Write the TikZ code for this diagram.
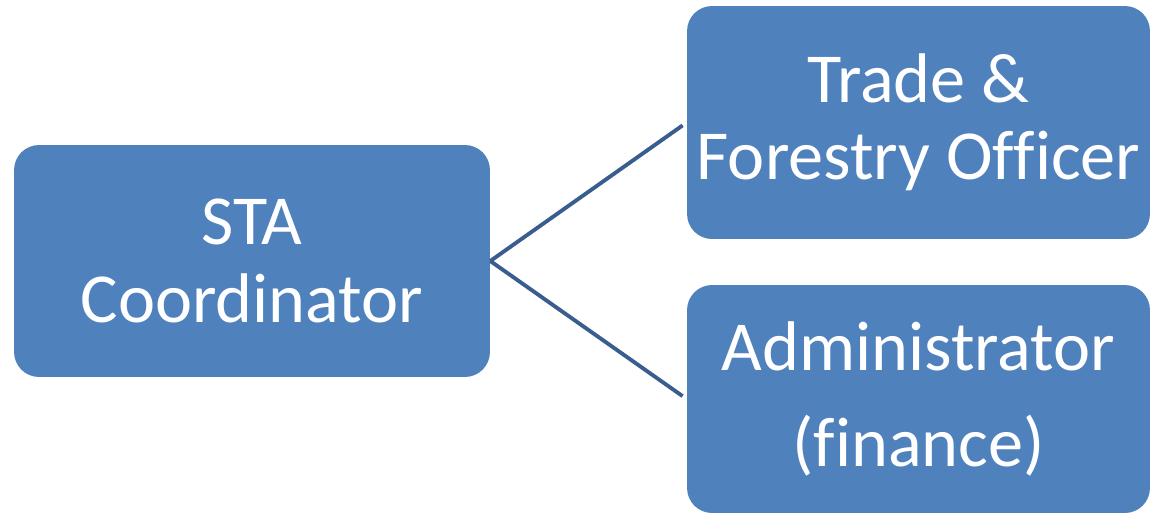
\documentclass[tikz,border=0pt]{standalone}
\usepackage{fontspec}
\setmainfont{Carlito}[Ligatures=NoCommon]
\usepackage{xcolor}
\usepackage{tikz}
\usetikzlibrary{positioning}
\definecolor{boxblue}{HTML}{4F81BD}
\definecolor{linkblue}{HTML}{3A5D8F}
\tikzset{
    role/.style={rectangle, rounded corners=0.5cm, fill=boxblue, text=white, align=center, inner sep=0pt, font=\fontsize{40}{44}\selectfont},
    link/.style={draw=linkblue, line width=2.2pt, shorten >=0.1cm}
}
\begin{document}
\begin{tikzpicture}[x=0.02cm, y=-0.02cm]
        \useasboundingbox (0,0) rectangle (1157,515);
        % Coordinator
        \node[role, minimum width=9.52cm, minimum height=4.64cm] (sta) at (252,261) {STA\\Coordinator};

        % Officers
        \node[role, minimum width=9.26cm, minimum height=4.66cm] (trade) at (918.5,122.5) {Trade \&\\Forestry Officer};
        \node[role, minimum width=9.26cm, minimum height=4.56cm] (admin) at (918.5,399) {Administrator\\[11pt](finance)};

        % Connections
        \draw[link] (sta.east) -- (trade.west);
        \draw[link] (sta.east) -- (admin.west);
    \end{tikzpicture}
\end{document}
